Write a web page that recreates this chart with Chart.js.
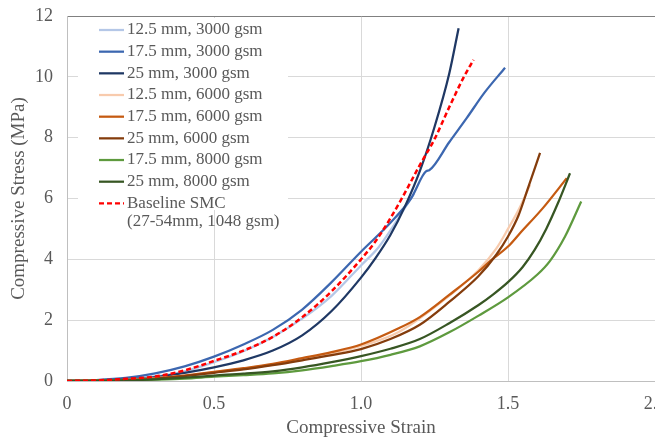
<!DOCTYPE html>
<html>
<head>
<meta charset="utf-8">
<script src="https://cdn.jsdelivr.net/npm/chart.js@4.4.1/dist/chart.umd.min.js"></script>
<style>
  html, body { margin: 0; padding: 0; background: #fff; overflow: hidden; }
  #wrap { position: relative; width: 655px; height: 441px; }
</style>
</head>
<body>
<div id="wrap"><canvas id="chart"></canvas></div>
<script>
// 图例文字（最后一项两行）
const seriesLabels = [
  ['12.5 mm, 3000 gsm'],
  ['17.5 mm, 3000 gsm'],
  ['25 mm, 3000 gsm'],
  ['12.5 mm, 6000 gsm'],
  ['17.5 mm, 6000 gsm'],
  ['25 mm, 6000 gsm'],
  ['17.5 mm, 8000 gsm'],
  ['25 mm, 8000 gsm'],
  ['Baseline SMC', '(27-54mm, 1048 gsm)']
];
const seriesColors = ['#b4c7e7', '#3c67b0', '#1f3864', '#f8cbad', '#c55a11', '#843c0c', '#5e9a3e', '#375623', '#ff0000'];

// 应变 / 应力 数据
const strain12_3000 = [0, 0.1, 0.2, 0.3, 0.4, 0.5, 0.6, 0.7, 0.8, 0.9, 1.0, 1.06, 1.1, 1.14, 1.18];
const stress12_3000 = [0, 0.02, 0.07, 0.15, 0.32, 0.62, 0.98, 1.45, 2.05, 2.8, 3.8, 4.4, 4.95, 5.55, 6.15];

const strain17_3000 = [0, 0.1, 0.2, 0.3, 0.4, 0.5, 0.6, 0.7, 0.8, 0.9, 1.0, 1.1, 1.17, 1.222, 1.232, 1.3, 1.36, 1.42, 1.49];
const stress17_3000 = [0, 0.03, 0.1, 0.25, 0.48, 0.8, 1.2, 1.68, 2.35, 3.25, 4.25, 5.2, 6.0, 6.9, 6.93, 7.85, 8.65, 9.48, 10.3];

const strain25_3000 = [0, 0.1, 0.2, 0.3, 0.4, 0.5, 0.6, 0.7, 0.8, 0.9, 1.0, 1.05, 1.1, 1.15, 1.2, 1.25, 1.3, 1.332];
const stress25_3000 = [0, 0.01, 0.05, 0.13, 0.27, 0.45, 0.68, 1.0, 1.5, 2.3, 3.4, 4.05, 4.8, 5.75, 6.9, 8.35, 10.1, 11.6];

const strain12_6000 = [0, 0.2, 0.4, 0.5, 0.6, 0.8, 1.0, 1.13, 1.3, 1.4, 1.46, 1.5, 1.54, 1.575];
const stress12_6000 = [0, 0.04, 0.18, 0.29, 0.4, 0.7, 1.15, 1.62, 2.8, 3.65, 4.35, 5.0, 5.7, 6.45];

const strain17_6000 = [0, 0.2, 0.3, 0.4, 0.5, 0.6, 0.7, 0.8, 0.9, 1.0, 1.13, 1.2, 1.3, 1.4, 1.44, 1.5, 1.54, 1.62, 1.7];
const stress17_6000 = [0, 0.04, 0.09, 0.18, 0.3, 0.42, 0.56, 0.75, 0.95, 1.2, 1.74, 2.1, 2.83, 3.6, 3.95, 4.42, 4.85, 5.7, 6.67];

const strain25_6000 = [0, 0.2, 0.3, 0.4, 0.5, 0.6, 0.7, 0.8, 0.9, 1.0, 1.1, 1.2, 1.3, 1.4, 1.46, 1.5, 1.536, 1.57, 1.609];
const stress25_6000 = [0, 0.03, 0.07, 0.16, 0.27, 0.38, 0.52, 0.68, 0.85, 1.05, 1.38, 1.85, 2.6, 3.45, 4.15, 4.75, 5.45, 6.4, 7.5];

const strain17_8000 = [0, 0.2, 0.3, 0.4, 0.5, 0.6, 0.7, 0.8, 0.9, 1.0, 1.1, 1.2, 1.3, 1.4, 1.5, 1.6, 1.643, 1.694, 1.749];
const stress17_8000 = [0, 0.02, 0.045, 0.08, 0.14, 0.19, 0.25, 0.35, 0.49, 0.65, 0.86, 1.14, 1.6, 2.15, 2.75, 3.5, 3.95, 4.75, 5.9];

const strain25_8000 = [0, 0.2, 0.3, 0.4, 0.5, 0.6, 0.7, 0.8, 0.9, 1.0, 1.1, 1.2, 1.3, 1.4, 1.45, 1.5, 1.55, 1.59, 1.63, 1.67, 1.711];
const stress25_8000 = [0, 0.02, 0.055, 0.11, 0.18, 0.24, 0.32, 0.45, 0.62, 0.82, 1.06, 1.38, 1.9, 2.5, 2.85, 3.25, 3.75, 4.3, 5.0, 5.85, 6.83];

const strainBaseline = [0, 0.1, 0.2, 0.3, 0.4, 0.5, 0.6, 0.7, 0.8, 0.9, 1.0, 1.05, 1.1, 1.15, 1.2, 1.25, 1.3, 1.35, 1.383];
const stressBaseline = [0, 0.02, 0.07, 0.15, 0.35, 0.66, 1.0, 1.45, 2.1, 2.95, 4.0, 4.6, 5.35, 6.2, 7.1, 7.95, 9.0, 10.0, 10.56];

const seriesStrain = [strain12_3000, strain17_3000, strain25_3000, strain12_6000, strain17_6000, strain25_6000, strain17_8000, strain25_8000, strainBaseline];
const seriesStress = [stress12_3000, stress17_3000, stress25_3000, stress12_6000, stress17_6000, stress25_6000, stress17_8000, stress25_8000, stressBaseline];

const FONT = "'Liberation Serif', 'Times New Roman', serif";
const TEXT = '#595959';

// 图内图例（Excel 风格，白底）
const insideLegend = {
  id: 'insideLegend',
  beforeDatasetsDraw(chart) {
    const ctx = chart.ctx;
    ctx.save();
    ctx.fillStyle = '#fff';
    ctx.fillRect(78, 18, 210, 192);
    ctx.font = '17px ' + FONT;
    ctx.textBaseline = 'middle';
    ctx.fillStyle = TEXT;
    let y = 30;
    seriesLabels.forEach((lines, i) => {
      ctx.strokeStyle = seriesColors[i];
      ctx.lineWidth = 2.25;
      ctx.setLineDash(i === 8 ? [5, 3] : []);
      ctx.beginPath();
      ctx.moveTo(99, y);
      ctx.lineTo(124, y);
      ctx.stroke();
      lines.forEach((t, k) => {
        ctx.fillText(t, 127, y + k * 18.4);
      });
      y += 21.67;
    });
    ctx.restore();
  }
};

const datasets = seriesLabels.map((lines, i) => ({
  label: lines.join(' '),
  data: seriesStrain[i].map((x, k) => ({ x, y: seriesStress[i][k] })),
  borderColor: seriesColors[i],
  backgroundColor: seriesColors[i],
  borderWidth: i === 8 ? 2.5 : 2.25,
  borderDash: i === 8 ? [5, 3] : [],
  pointRadius: 0,
  showLine: true,
  fill: false,
  cubicInterpolationMode: 'monotone',
  order: seriesLabels.length - i
}));

new Chart(document.getElementById('chart'), {
  type: 'scatter',
  data: { datasets },
  plugins: [insideLegend],
  options: {
    responsive: true,
    maintainAspectRatio: false,
    animation: false,
    layout: { padding: { top: 16, right: -2, left: 0, bottom: 0 } },
    plugins: { legend: { display: false }, tooltip: { enabled: false } },
    scales: {
      x: {
        type: 'linear',
        min: 0, max: 2,
        afterFit: s => { s.height = 60; s.paddingLeft = 0; s.paddingRight = 0; },
        ticks: { stepSize: 0.5, padding: 12, color: TEXT, font: { family: FONT, size: 18 } },
        grid: { color: '#d9d9d9', lineWidth: 1, drawTicks: false },
        border: { color: '#bfbfbf', width: 1 },
        title: { display: true, text: 'Compressive Strain', color: TEXT, font: { family: FONT, size: 19 }, padding: { top: 0, bottom: 2 } }
      },
      y: {
        min: 0, max: 12,
        afterFit: s => { s.width = 67; s.paddingTop = 0; s.paddingBottom = 0; },
        ticks: { stepSize: 2, padding: 14, color: TEXT, font: { family: FONT, size: 18 } },
        grid: { color: c => c.tick && c.tick.value === 12 ? '#808080' : '#d9d9d9', lineWidth: 1, drawTicks: false },
        border: { color: '#bfbfbf', width: 1 },
        title: { display: true, text: 'Compressive Stress (MPa)', color: TEXT, font: { family: FONT, size: 19 }, padding: { top: 8, bottom: 0 } }
      }
    }
  }
});
</script>
</body>
</html>
